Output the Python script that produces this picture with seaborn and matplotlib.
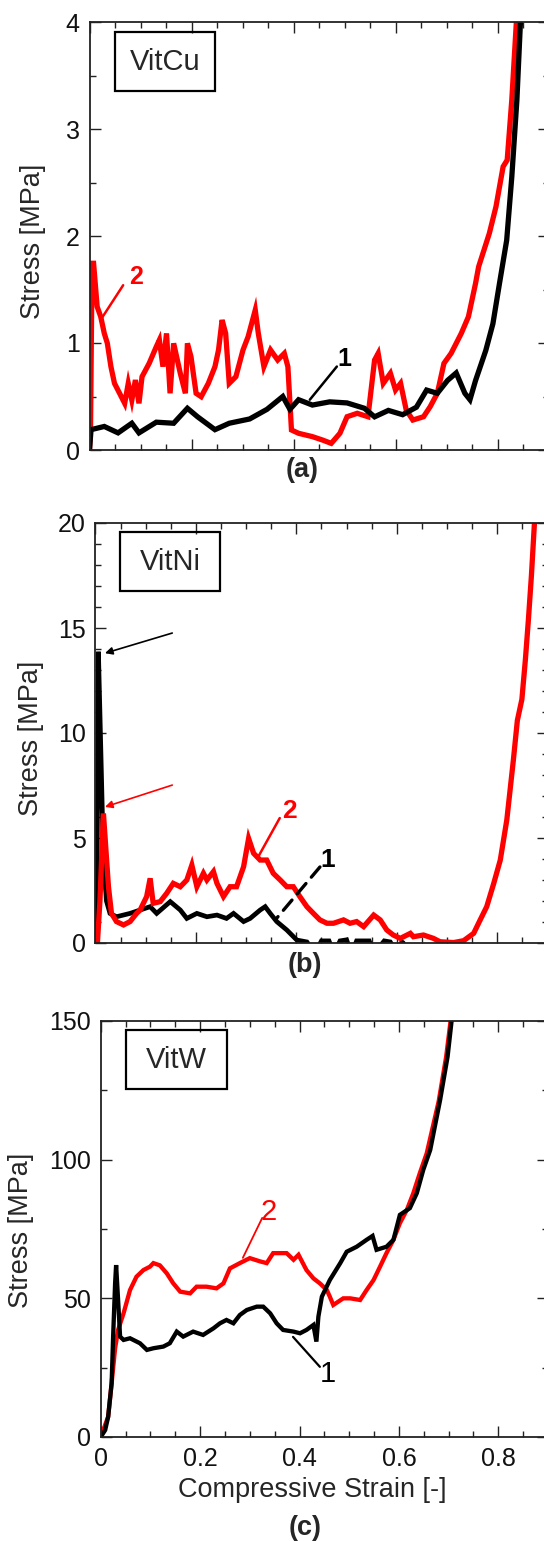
import matplotlib
matplotlib.use('Agg')
import matplotlib.pyplot as plt
import seaborn as sns
from matplotlib.patches import Rectangle
from matplotlib.ticker import MultipleLocator, FuncFormatter

# (a) VitCu
strain_a1 = [0, 0.003, 0.029, 0.056, 0.083, 0.097, 0.131, 0.165, 0.192, 0.212, 0.246, 0.274, 0.314, 0.348,
             0.379, 0.393, 0.410, 0.437, 0.471, 0.505, 0.539, 0.559, 0.586, 0.614, 0.641, 0.661, 0.682, 0.702,
             0.719, 0.736, 0.746, 0.757, 0.777, 0.791, 0.804, 0.818, 0.828, 0.838, 0.845]
stress_a1 = [0, 0.19, 0.22, 0.16, 0.25, 0.16, 0.26, 0.25, 0.39, 0.31, 0.19, 0.25, 0.29, 0.38,
             0.50, 0.38, 0.47, 0.42, 0.45, 0.44, 0.39, 0.31, 0.37, 0.33, 0.40, 0.56, 0.53, 0.65,
             0.72, 0.53, 0.47, 0.65, 0.93, 1.18, 1.56, 1.96, 2.55, 3.27, 4.0]
strain_a2 = [0, 0.002, 0.005, 0.008, 0.015, 0.022, 0.029, 0.035, 0.042, 0.049, 0.059, 0.069, 0.076, 0.083,
             0.090, 0.097, 0.103, 0.117, 0.131, 0.137, 0.144, 0.151, 0.158, 0.165, 0.178, 0.188, 0.192,
             0.199, 0.209, 0.219, 0.233, 0.246, 0.253, 0.260, 0.267, 0.274, 0.287, 0.301, 0.311, 0.325,
             0.331, 0.342, 0.355, 0.369, 0.382, 0.389, 0.396, 0.410, 0.437, 0.457, 0.474, 0.491, 0.505,
             0.525, 0.546, 0.559, 0.566, 0.576, 0.590, 0.600, 0.610, 0.621, 0.634, 0.655, 0.668, 0.682,
             0.695, 0.709, 0.729, 0.743, 0.757, 0.763, 0.784, 0.797, 0.811, 0.819, 0.828, 0.837]
stress_a2 = [0, 0.2, 1.745, 1.745, 1.34, 1.246, 1.09, 0.997, 0.779, 0.623, 0.53, 0.436, 0.623, 0.467,
             0.654, 0.436, 0.685, 0.81, 0.966, 1.028, 0.779, 1.09, 0.53, 0.997, 0.717, 0.53, 0.997,
             0.872, 0.53, 0.498, 0.623, 0.779, 0.935, 1.215, 1.09, 0.623, 0.685, 0.935, 1.059, 1.308,
             1.09, 0.779, 0.935, 0.841, 0.903, 0.779, 0.187, 0.156, 0.125, 0.093, 0.062, 0.156, 0.311,
             0.343, 0.311, 0.841, 0.903, 0.623, 0.717, 0.561, 0.623, 0.374, 0.28, 0.311, 0.405, 0.53,
             0.81, 0.903, 1.09, 1.246, 1.558, 1.713, 2.025, 2.274, 2.648, 2.71, 3.27, 4.0]

# (b) VitNi
strain_b1 = [0.0025, 0.006, 0.012, 0.016, 0.022, 0.029, 0.042, 0.069, 0.089, 0.109, 0.122, 0.149, 0.169,
             0.182, 0.202, 0.222, 0.242, 0.261, 0.275, 0.295, 0.308, 0.328, 0.338, 0.348, 0.361, 0.381,
             0.401, 0.421, 0.437, 0.450, 0.465, 0.475, 0.487, 0.500, 0.510, 0.520, 0.545, 0.555, 0.575,
             0.587, 0.600, 0.610, 0.613]
stress_b1 = [0, 13.87, 8.0, 4.0, 2.0, 1.41, 1.25, 1.41, 1.57, 1.73, 1.41, 1.97, 1.57,
             1.17, 1.41, 1.25, 1.33, 1.17, 1.41, 1.02, 1.17, 1.57, 1.73, 1.41, 1.02, 0.62,
             0.14, 0.05, -0.5, 0.1, 0.1, -0.5, 0.1, 0.15, -0.5, 0.1, 0.1, -0.5, 0.1,
             0.05, -0.5, 0.05, 0]
strain_b2 = [0.004, 0.009, 0.016, 0.026, 0.032, 0.042, 0.056, 0.069, 0.082, 0.089, 0.102, 0.109, 0.115,
             0.129, 0.142, 0.155, 0.169, 0.182, 0.192, 0.202, 0.215, 0.222, 0.235, 0.242, 0.255, 0.268,
             0.281, 0.295, 0.305, 0.315, 0.328, 0.341, 0.354, 0.368, 0.381, 0.394, 0.407, 0.421, 0.434,
             0.447, 0.461, 0.474, 0.494, 0.507, 0.520, 0.534, 0.554, 0.567, 0.580, 0.593, 0.607, 0.627,
             0.633, 0.653, 0.673, 0.686, 0.713, 0.733, 0.753, 0.766, 0.779, 0.793, 0.806, 0.819, 0.832,
             0.840, 0.849, 0.856, 0.862, 0.868, 0.874]
stress_b2 = [0, 2.0, 6.17, 2.68, 1.41, 1.02, 0.86, 1.02, 1.41, 1.57, 2.21, 3.08, 1.89,
             1.97, 2.37, 2.84, 2.68, 3.0, 3.71, 2.68, 3.32, 3.0, 3.40, 2.84, 2.21, 2.68,
             2.68, 3.63, 4.98, 4.27, 3.95, 3.95, 3.32, 3.0, 2.68, 2.68, 2.21, 1.73, 1.41,
             1.10, 0.94, 0.94, 1.10, 0.94, 1.02, 0.78, 1.33, 1.10, 0.62, 0.38, 0.22, 0.46,
             0.30, 0.38, 0.22, 0.06, 0.02, 0.11, 0.46, 1.10, 1.73, 2.84, 3.95, 5.86, 8.7,
             10.6, 11.6, 13.5, 15.4, 17.5, 20.0]

# (c) VitW
strain_c1 = [0, 0.009, 0.015, 0.022, 0.025, 0.029, 0.031, 0.035, 0.039, 0.046, 0.059, 0.079, 0.093,
             0.106, 0.126, 0.139, 0.153, 0.166, 0.186, 0.206, 0.227, 0.240, 0.253, 0.267, 0.280, 0.294,
             0.314, 0.327, 0.341, 0.354, 0.367, 0.388, 0.401, 0.414, 0.428, 0.434, 0.438, 0.445, 0.461,
             0.482, 0.495, 0.515, 0.535, 0.547, 0.555, 0.575, 0.589, 0.602, 0.622, 0.636, 0.649, 0.663,
             0.683, 0.698, 0.706]
stress_c1 = [0, 2.5, 7.3, 19.4, 36.2, 55.4, 62.0, 49.4, 36.2, 35.0, 35.6, 33.8, 31.4,
             32.0, 32.6, 33.8, 38.0, 36.2, 38.0, 36.8, 39.2, 41.0, 42.2, 41.0, 44.0, 45.8,
             47.0, 47.0, 44.6, 41.0, 38.6, 38.0, 37.4, 38.6, 40.4, 34.4, 43.4, 50.6, 56.6,
             62.7, 66.8, 68.6, 71.1, 72.5, 67.5, 68.6, 71.1, 80.1, 82.5, 87.9, 96.3, 103.5,
             121.6, 137.2, 150.0]
strain_c2 = [0, 0.015, 0.022, 0.029, 0.035, 0.046, 0.059, 0.072, 0.086, 0.099, 0.106, 0.119, 0.133,
             0.146, 0.160, 0.180, 0.193, 0.213, 0.233, 0.247, 0.260, 0.280, 0.300, 0.321, 0.334, 0.347,
             0.374, 0.388, 0.398, 0.414, 0.428, 0.441, 0.455, 0.461, 0.468, 0.488, 0.502, 0.522, 0.535,
             0.549, 0.562, 0.575, 0.589, 0.602, 0.616, 0.629, 0.642, 0.656, 0.680, 0.695, 0.704]
stress_c2 = [0, 7.3, 19.4, 32.0, 38.6, 44.6, 53.0, 57.8, 60.2, 61.4, 62.7, 61.9, 59.0,
             55.4, 52.4, 51.8, 54.2, 54.2, 53.6, 55.4, 60.8, 62.7, 64.5, 63.3, 62.7, 66.3,
             66.3, 63.9, 65.7, 60.2, 57.2, 55.4, 53.0, 50.6, 47.6, 50.0, 50.0, 49.4, 53.0,
             56.6, 61.4, 66.3, 71.1, 77.1, 81.9, 87.9, 95.1, 102.3, 121.0, 137.0, 150.0]

RED = '#ff0000'
W, H = 544, 1541

sns.set_style('ticks')
plt.rcParams['font.family'] = ['Liberation Sans', 'DejaVu Sans']

fig = plt.figure(figsize=(W / 100, H / 100), dpi=100)


def px_rect(l, t, r, b):
    return [l / W, 1 - b / H, (r - l) / W, (b - t) / H]


def px(x, y):
    return x / W, 1 - y / H


fmt = FuncFormatter(lambda v, _: '0' if abs(v) < 1e-9 else f'{v:g}')


def style(ax, ymax, ymaj, ymin, show_x):
    ax.set_xlim(0, 0.9)
    ax.set_ylim(0, ymax)
    ax.xaxis.set_major_locator(MultipleLocator(0.2))
    ax.xaxis.set_minor_locator(MultipleLocator(0.05))
    ax.yaxis.set_major_locator(MultipleLocator(ymaj))
    ax.yaxis.set_minor_locator(MultipleLocator(ymin))
    ax.xaxis.set_major_formatter(fmt)
    ax.yaxis.set_major_formatter(fmt)
    ax.tick_params(which='both', direction='in', top=True, right=True, width=1.0,
                   labelsize=18, pad=7, colors='#222222', labelcolor='#111111')
    ax.tick_params(which='major', length=8)
    ax.tick_params(which='minor', length=4)
    for s in ax.spines.values():
        s.set_linewidth(1.3)
        s.set_color('#222222')
    ax.set_xlabel('')
    if not show_x:
        ax.tick_params(labelbottom=False)


def curve(ax, x, y, color, lw):
    sns.lineplot(x=x, y=y, ax=ax, color=color, lw=lw, sort=False, estimator=None,
                 solid_joinstyle='miter')


def tag(name, l, t, r, b):
    fig.patches.append(Rectangle(px(l, b), (r - l) / W, (b - t) / H, transform=fig.transFigure,
                                 fill=False, ec='black', lw=1.6))
    fig.text(*px((l + r) / 2, (t + b) / 2), name, ha='center', va='center', fontsize=21)


def leader(ax, label, pos, start, end, color, size, weight, ls='-', lw=1.8):
    ax.annotate('', xy=end, xytext=start,
                arrowprops=dict(arrowstyle='-', color=color, lw=lw, linestyle=ls,
                                shrinkA=0, shrinkB=0))
    ax.text(*pos, label, color=color, fontsize=size, fontweight=weight, ha='center', va='center')


# ---- (a) ----
ax_a = fig.add_axes(px_rect(89.5, 22, 548.5, 450))
curve(ax_a, strain_a2, stress_a2, RED, 3.8)
curve(ax_a, strain_a1, stress_a1, 'black', 3.8)
style(ax_a, 4, 1, 0.5, False)
ax_a.set_ylabel('Stress [MPa]', fontsize=19.5, va='center')
ax_a.yaxis.set_label_coords(*px(33, 241), transform=fig.transFigure)
tag('VitCu', 114.5, 32, 215, 91)
leader(ax_a, '2', (0.091, 1.62), (0.066, 1.54), (0.021, 1.21), RED, 18, 'bold')
leader(ax_a, '1', (0.499, 0.85), (0.485, 0.78), (0.432, 0.47), 'black', 18, 'bold')
fig.text(*px(302, 470), '(a)', ha='center', va='center', fontsize=19.5, fontweight='bold')

# ---- (b) ----
ax_b = fig.add_axes(px_rect(95.4, 523, 547.5, 943))
curve(ax_b, strain_b1, stress_b1, 'black', 3.4)
curve(ax_b, strain_b2, stress_b2, RED, 3.8)
style(ax_b, 20, 5, 1, False)
ax_b.set_ylabel('Stress [MPa]', fontsize=19.5, va='center')
ax_b.yaxis.set_label_coords(*px(31, 738), transform=fig.transFigure)
tag('VitNi', 120, 532, 220, 591)
leader(ax_b, '2', (0.386, 6.3), (0.367, 5.95), (0.324, 4.1), RED, 19, 'bold')
leader(ax_b, '1', (0.463, 3.95), (0.447, 3.62), (0.358, 1.1), 'black', 19, 'bold', ls=(0, (4, 2.5)), lw=2.4)
ax_b.annotate('', xy=(0.019, 13.8), xytext=(0.153, 14.76),
              arrowprops=dict(arrowstyle='-|>', color='black', lw=1.2, mutation_scale=11,
                              shrinkA=0, shrinkB=0))
ax_b.annotate('', xy=(0.019, 6.48), xytext=(0.153, 7.52),
              arrowprops=dict(arrowstyle='-|>', color=RED, lw=1.2, mutation_scale=11,
                              shrinkA=0, shrinkB=0))
fig.text(*px(305, 965), '(b)', ha='center', va='center', fontsize=19.5, fontweight='bold')

# ---- (c) ----
ax_c = fig.add_axes(px_rect(100.7, 1021, 548, 1437))
curve(ax_c, strain_c2, stress_c2, RED, 3.1)
curve(ax_c, strain_c1, stress_c1, 'black', 3.1)
style(ax_c, 150, 50, 25, True)
ax_c.set_ylabel('Stress [MPa]', fontsize=19.5, va='center')
ax_c.yaxis.set_label_coords(*px(21, 1230), transform=fig.transFigure)
ax_c.set_xlabel('Compressive Strain [-]', fontsize=19.5, va='center')
ax_c.xaxis.set_label_coords(*px(312, 1490), transform=fig.transFigure)
tag('VitW', 125.7, 1030, 226.7, 1089)
leader(ax_c, '2', (0.337, 81.2), (0.325, 79.0), (0.286, 64.6), RED, 21, 'normal', lw=1.3)
leader(ax_c, '1', (0.457, 22.7), (0.441, 25.3), (0.387, 36.1), 'black', 21, 'normal', lw=1.6)
fig.text(*px(305, 1528), '(c)', ha='center', va='center', fontsize=19.5, fontweight='bold')

fig.savefig('out.png', dpi=100)
